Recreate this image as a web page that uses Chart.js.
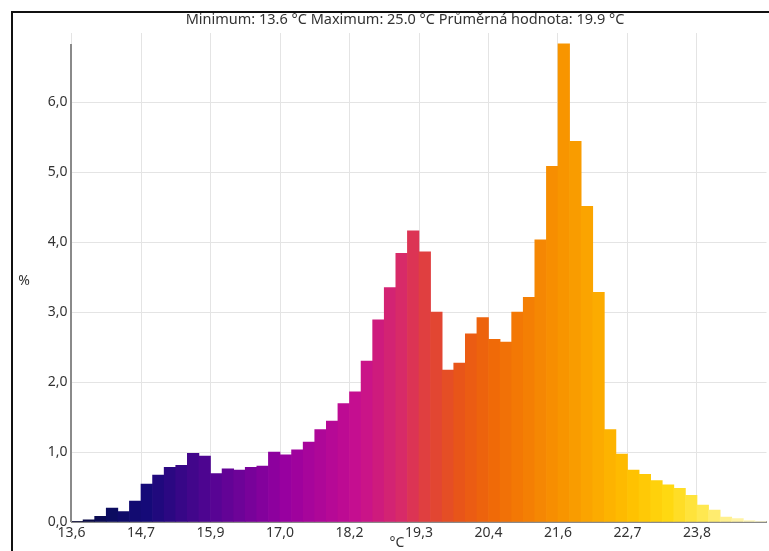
<!DOCTYPE html>
<html>
<head>
<meta charset="utf-8">
<title>Teplotní histogram</title>
<script src="https://cdn.jsdelivr.net/npm/chart.js@4.4.1/dist/chart.umd.min.js"></script>
<style>
  html, body { margin: 0; padding: 0; background: #ffffff; }
  #wrap { position: relative; width: 769px; height: 551px; overflow: hidden; }
  canvas { display: block; }
</style>
</head>
<body>
<div id="wrap"><canvas id="chart" width="769" height="551"></canvas></div>
<script>
// Lower edge of every 0.19 °C temperature bin (last bin ends at 25.0 °C)
const binStarts = [
  13.60, 13.79, 13.98, 14.17, 14.36, 14.55, 14.74, 14.93, 15.12, 15.31,
  15.50, 15.69, 15.88, 16.07, 16.26, 16.45, 16.64, 16.83, 17.02, 17.21,
  17.40, 17.59, 17.78, 17.97, 18.16, 18.35, 18.54, 18.73, 18.92, 19.11,
  19.30, 19.49, 19.68, 19.87, 20.06, 20.25, 20.44, 20.63, 20.82, 21.01,
  21.20, 21.39, 21.58, 21.77, 21.96, 22.15, 22.34, 22.53, 22.72, 22.91,
  23.10, 23.29, 23.48, 23.67, 23.86, 24.05, 24.24, 24.43, 24.62, 24.81
];
const binEnd = 25.00;

// Share of pixels in each bin, in percent
const sharePercent = [
  0.01, 0.03, 0.08, 0.20, 0.15, 0.30, 0.54, 0.67, 0.78, 0.81,
  0.98, 0.94, 0.69, 0.76, 0.74, 0.78, 0.80, 1.00, 0.96, 1.03,
  1.14, 1.32, 1.44, 1.69, 1.86, 2.30, 2.89, 3.35, 3.84, 4.16,
  3.86, 3.00, 2.17, 2.27, 2.69, 2.92, 2.61, 2.57, 3.00, 3.21,
  4.03, 5.08, 6.83, 5.44, 4.51, 3.28, 1.32, 0.97, 0.74, 0.68,
  0.59, 0.53, 0.48, 0.38, 0.24, 0.17, 0.07, 0.05, 0.02, 0.01
];

// Axis ticks
const xTickValues = [13.60, 14.74, 15.88, 17.02, 18.16, 19.30, 20.44, 21.58, 22.72, 23.86];
const xTickLabels = ['13,6', '14,7', '15,9', '17,0', '18,2', '19,3', '20,4', '21,6', '22,7', '23,8'];
const yTickValues = [0, 1, 2, 3, 4, 5, 6];

const titleText = 'Minimum: 13.6 °C Maximum: 25.0 °C Průměrná hodnota: 19.9 °C';
const xAxisTitle = '°C';
const yAxisTitle = '%';

// Thermal "iron" palette used to colour the bins from cold to hot
const paletteStops = [
  [0.000, [8, 8, 56]],
  [0.050, [12, 12, 96]],
  [0.100, [20, 10, 120]],
  [0.200, [86, 4, 148]],
  [0.305, [152, 0, 160]],
  [0.410, [198, 14, 144]],
  [0.475, [216, 42, 104]],
  [0.510, [224, 64, 62]],
  [0.560, [232, 85, 24]],
  [0.610, [240, 106, 8]],
  [0.710, [248, 148, 0]],
  [0.810, [255, 192, 0]],
  [0.864, [255, 216, 16]],
  [0.915, [255, 232, 80]],
  [0.950, [255, 240, 144]],
  [1.000, [255, 250, 208]]
];
function paletteColor(t) {
  for (let i = 1; i < paletteStops.length; i++) {
    const [t1, c1] = paletteStops[i];
    const [t0, c0] = paletteStops[i - 1];
    if (t <= t1) {
      const f = (t - t0) / (t1 - t0);
      const c = c0.map((v, k) => Math.round(v + (c1[k] - v) * f));
      return `rgb(${c[0]},${c[1]},${c[2]})`;
    }
  }
  const c = paletteStops[paletteStops.length - 1][1];
  return `rgb(${c[0]},${c[1]},${c[2]})`;
}

const binEdges = binStarts.concat([binEnd]);
const points = sharePercent.map((v, i) => ({ x: (binEdges[i] + binEdges[i + 1]) / 2, y: v }));
const barColors = sharePercent.map((v, i) => paletteColor(i / (sharePercent.length - 1)));

const textColor = '#333333';
const gridColor = '#e4e4e4';
const axisColor = '#8a8a8a';
const fontFamily = '"Noto Sans", "Open Sans", sans-serif';

// Frame, headline, axis titles and the shortened vertical axis line
const decorations = {
  id: 'decorations',
  beforeDraw(chart) {
    const ctx = chart.ctx;
    ctx.save();
    ctx.fillStyle = '#ffffff';
    ctx.fillRect(0, 0, chart.width, chart.height);
    ctx.strokeStyle = '#111111';
    ctx.lineWidth = 2;
    ctx.beginPath();
    ctx.moveTo(12, chart.height);
    ctx.lineTo(12, 12);
    ctx.lineTo(chart.width, 12);
    ctx.stroke();
    ctx.restore();
  },
  afterDraw(chart) {
    const ctx = chart.ctx;
    const area = chart.chartArea;
    const y = chart.scales.y;
    ctx.save();
    ctx.strokeStyle = axisColor;
    ctx.lineWidth = 2;
    ctx.beginPath();
    ctx.moveTo(area.left - 0.5, y.getPixelForValue(Math.max(...sharePercent)));
    ctx.lineTo(area.left - 0.5, y.getPixelForValue(0));
    ctx.stroke();

    ctx.fillStyle = textColor;
    ctx.textAlign = 'center';
    ctx.textBaseline = 'middle';
    ctx.font = `14.5px ${fontFamily}`;
    ctx.fillText(titleText, 405, 20);
    ctx.font = `14px ${fontFamily}`;
    ctx.fillText(yAxisTitle, 24, 281);
    ctx.fillText(xAxisTitle, 397, 543);
    ctx.restore();
  }
};

new Chart(document.getElementById('chart'), {
  type: 'bar',
  data: {
    datasets: [{
      data: points,
      backgroundColor: barColors,
      borderWidth: 0,
      barPercentage: 1,
      categoryPercentage: 1
    }]
  },
  options: {
    responsive: false,
    animation: false,
    layout: { padding: { top: 33, left: 0, right: 2.5, bottom: 0 } },
    plugins: {
      legend: { display: false },
      tooltip: { enabled: false },
      title: { display: false }
    },
    scales: {
      x: {
        type: 'linear',
        min: binStarts[0],
        max: binEnd,
        offset: false,
        grid: { offset: false, color: gridColor, lineWidth: 1, drawTicks: false },
        border: { display: true, color: axisColor, width: 2 },
        afterBuildTicks(scale) { scale.ticks = xTickValues.map(v => ({ value: v })); },
        afterFit(scale) { scale.height = 29; },
        ticks: {
          autoSkip: false,
          maxRotation: 0,
          padding: 3,
          color: textColor,
          font: { family: fontFamily, size: 14 },
          callback: (value, index) => xTickLabels[index]
        }
      },
      y: {
        min: 0,
        max: 6.986,
        grid: { color: gridColor, lineWidth: 1, drawTicks: false },
        border: { display: false },
        afterBuildTicks(scale) { scale.ticks = yTickValues.map(v => ({ value: v })); },
        afterFit(scale) { scale.width = 71.5; },
        ticks: {
          padding: 4,
          color: textColor,
          font: { family: fontFamily, size: 14 },
          callback: (value) => value.toFixed(1).replace('.', ',')
        }
      }
    }
  },
  plugins: [decorations]
});
</script>
</body>
</html>
